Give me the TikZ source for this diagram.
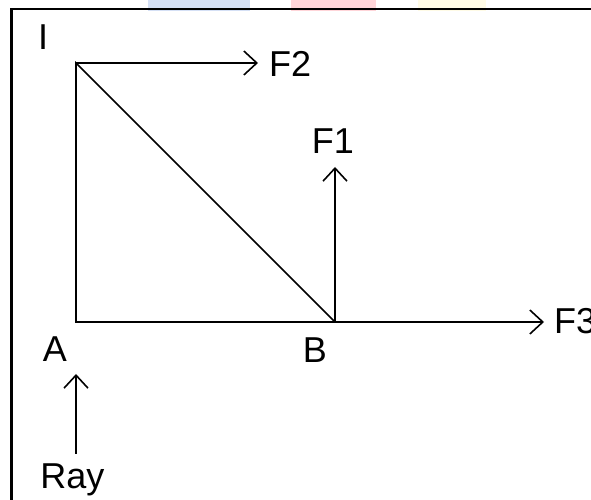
\documentclass[tikz,border=0pt]{standalone}
\usepackage{fontspec}
\setmainfont{Liberation Sans}
\usepackage{xcolor}
\usepackage{tikz}
\usetikzlibrary{arrows.meta}

\definecolor{tabblue}{RGB}{213,224,245}
\definecolor{tabred}{RGB}{255,213,217}
\definecolor{tabyellow}{RGB}{255,251,230}

\begin{document}
\begin{tikzpicture}[x=1pt, y=1pt,
    every node/.style={font=\fontsize{36}{40}\selectfont, inner sep=0pt},
    edge/.style={line width=1.6pt},
    force/.style={line width=1.6pt, -{Straight Barb[length=13pt, width=24pt]}}]

  % --- Canvas: page is 591 x 500, frame runs off right and bottom ---
  \useasboundingbox (0,0) rectangle (591,500);
  \clip (0,0) rectangle (591,500);

  % Tabs peeking above the frame
  \fill[tabblue]   (148,489) rectangle (250,500);
  \fill[tabred]    (291,489) rectangle (376,500);
  \fill[tabyellow] (418,489) rectangle (486,500);

  % Frame
  \draw[line width=2.6pt] (11.5,-20) rectangle (620,491);

  % Corners of the triangle and free ends of the forces
  \coordinate (I) at (76,437);
  \coordinate (A) at (76,178);
  \coordinate (B) at (335,178);
  \coordinate (F2end) at (258,437);
  \coordinate (F1end) at (335,333);
  \coordinate (F3end) at (544,178);
  \coordinate (raytail) at (76,46);
  \coordinate (rayhead) at (76,126);

  % Triangle
  \draw[edge] (I) -- (A) -- (B) -- cycle;

  % Forces
  \draw[force] (I) -- (F2end);
  \draw[force] (B) -- (F1end);
  \draw[force] (B) -- (F3end);
  \draw[force] (raytail) -- (rayhead);

  % Labels
  \node (lblI)  at (43,463) {I};
  \node[anchor=west] (lblF2) at (269,436) {F2};
  \node (lblF1) at (333,359) {F1};
  \node[anchor=west] (lblF3) at (554,179) {F3};
  \node (lblA)  at (55,151) {A};
  \node (lblB)  at (315,150) {B};
  \node[anchor=base] (lblRay) at (72.5,11) {Ray};
\end{tikzpicture}
\end{document}
